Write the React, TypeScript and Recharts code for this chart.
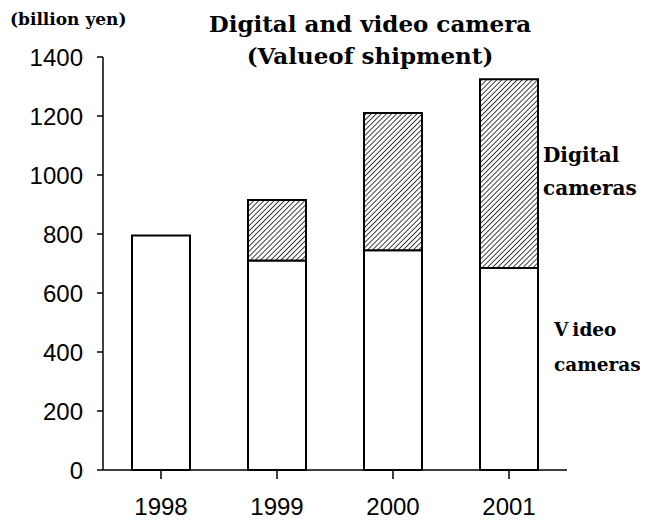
import { BarChart, Bar, XAxis, YAxis } from 'recharts';

const years = ['1998', '1999', '2000', '2001'];
const videoCameras = [795, 710, 745, 685];
const digitalCameras = [0, 205, 465, 640];
const yTicks = [0, 200, 400, 600, 800, 1000, 1200, 1400];

const data = years.map((year, i) => ({
  year,
  video: videoCameras[i],
  digital: digitalCameras[i],
}));

const serif = '"DejaVu Serif", serif';
const sans = '"Liberation Sans", Arial, sans-serif';

const textStyle = (left: number, top: number, size: number): React.CSSProperties => ({
  position: 'absolute',
  left,
  top,
  fontFamily: serif,
  fontWeight: 'bold',
  fontSize: size,
  lineHeight: `${size + 4}px`,
  whiteSpace: 'nowrap',
  color: '#000',
});

export default function App() {
  return (
    <div style={{ position: 'relative', width: 640, height: 513, overflow: 'hidden' }}>
      <svg width={0} height={0} style={{ position: 'absolute' }}>
        <defs>
          <pattern
            id="hatch"
            width="3.6"
            height="3.6"
            patternUnits="userSpaceOnUse"
            patternTransform="rotate(45)"
          >
            <rect width="3.6" height="3.6" fill="#fff" />
            <line x1="0" y1="0" x2="0" y2="3.6" stroke="#000" strokeWidth="1.5" />
          </pattern>
        </defs>
      </svg>
      <BarChart
        width={640}
        height={513}
        data={data}
        margin={{ top: 49, right: 81, bottom: 6, left: 0 }}
        barCategoryGap="25%"
      >
        <XAxis
          dataKey="year"
          axisLine={{ stroke: '#000', strokeWidth: 1.5 }}
          tickLine={{ stroke: '#000', strokeWidth: 1.5 }}
          tickSize={9}
          tickMargin={19}
          height={45}
          tick={{ fill: '#000', fontSize: 24, fontFamily: sans }}
        />
        <YAxis
          domain={[0, 1400]}
          ticks={yTicks}
          width={95}
          axisLine={{ stroke: '#000', strokeWidth: 1.5 }}
          tickLine={{ stroke: '#000', strokeWidth: 1.5 }}
          tickSize={6}
          tickMargin={14}
          tick={{ fill: '#000', fontSize: 24, fontFamily: sans }}
        />
        <Bar dataKey="video" stackId="a" fill="#fff" stroke="#000" strokeWidth={2} isAnimationActive={false} />
        <Bar dataKey="digital" stackId="a" fill="url(#hatch)" stroke="#000" strokeWidth={2} isAnimationActive={false} />
      </BarChart>
      <div style={textStyle(2, 1, 17)}>(billion yen)</div>
      <div style={{ ...textStyle(0, 2, 23), width: 724, textAlign: 'center' }}>Digital and video camera</div>
      <div style={{ ...textStyle(0, 34, 23), width: 724, textAlign: 'center' }}>(Valueof shipment)</div>
      <div style={textStyle(535, 135, 20)}>Digital</div>
      <div style={textStyle(535, 168, 20)}>cameras</div>
      <div style={textStyle(546, 311, 18.5)}>
        <span style={{ marginRight: 4 }}>V</span>ideo
      </div>
      <div style={textStyle(546, 346, 18.5)}>cameras</div>
    </div>
  );
}
